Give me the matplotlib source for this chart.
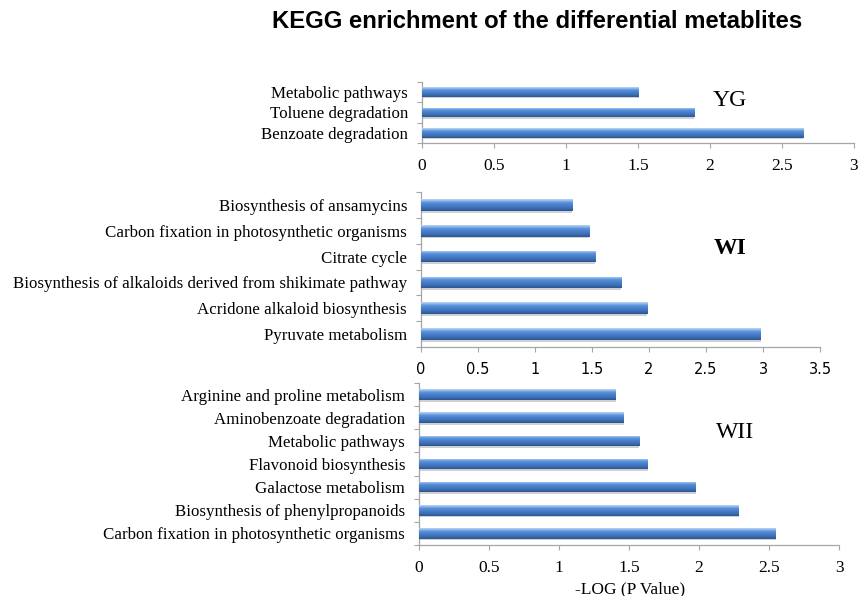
import numpy as np
import matplotlib
matplotlib.use("Agg")
import matplotlib.pyplot as plt
from matplotlib.colors import LinearSegmentedColormap

W, H = 859, 596

# Pathway names listed top to bottom, with -log10(P) values
yg_terms = ["Metabolic pathways", "Toluene degradation", "Benzoate degradation"]
yg_vals = [1.505, 1.89, 2.648]

wi_terms = ["Biosynthesis of ansamycins",
            "Carbon fixation in photosynthetic organisms",
            "Citrate cycle",
            "Biosynthesis of alkaloids derived from shikimate pathway",
            "Acridone alkaloid biosynthesis",
            "Pyruvate metabolism"]
wi_vals = [1.327, 1.474, 1.53, 1.757, 1.985, 2.98]

wii_terms = ["Arginine and proline metabolism",
             "Aminobenzoate degradation",
             "Metabolic pathways",
             "Flavonoid biosynthesis",
             "Galactose metabolism",
             "Biosynthesis of phenylpropanoids",
             "Carbon fixation in photosynthetic organisms"]
wii_vals = [1.407, 1.464, 1.574, 1.633, 1.976, 2.283, 2.548]

yg_ticks = [0, 0.5, 1, 1.5, 2, 2.5, 3]
wi_ticks = [0, 0.5, 1, 1.5, 2, 2.5, 3, 3.5]
wii_ticks = [0, 0.5, 1, 1.5, 2, 2.5, 3]

SERIF = "Liberation Serif"
SANS = "Liberation Sans"
SPINE = "#a6a6a6"

# bottom -> top shading of each bar
bar_cmap = LinearSegmentedColormap.from_list(
    "bevel",
    [(0.0, "#2b5592"), (0.2, "#3a6bb0"), (0.5, "#4a80cb"),
     (0.72, "#5a93dc"), (0.86, "#8fb8ec"), (1.0, "#bcd5f4")])
grad = np.linspace(0, 1, 64).reshape(-1, 1)


def px_rect(x0, y0, x1, y1):
    return [x0 / W, 1 - y1 / H, (x1 - x0) / W, (y1 - y0) / H]


def panel(rect, terms, vals, ticks, xmax, tick_font, tick_size, bar_h):
    ax = fig.add_axes(rect)
    n = len(terms)
    pos = np.arange(n)[::-1]
    # soft shadow under each bar
    ax.barh(pos - 0.07, vals, height=bar_h, color="#d0d0d0", zorder=1)
    bars = ax.barh(pos, vals, height=bar_h, color="#4a80cb", zorder=2)
    for b in bars:
        x0, y0 = b.get_x(), b.get_y()
        im = ax.imshow(grad, cmap=bar_cmap, origin="lower", aspect="auto",
                       extent=(x0, x0 + b.get_width(), y0, y0 + b.get_height()),
                       zorder=3, interpolation="bilinear")
        im.set_clip_path(b)
    ax.set_xlim(0, xmax)
    ax.set_ylim(-0.5, n - 0.5)
    ax.set_yticks(pos)
    ax.set_yticklabels(terms, fontfamily=SERIF, fontsize=12.2)
    ax.set_yticks(np.arange(n + 1) - 0.5, minor=True)
    ax.tick_params(axis="y", which="major", length=0, pad=10)
    ax.tick_params(axis="y", which="minor", length=3.5, color=SPINE, width=0.8)
    ax.set_xticks(ticks)
    ax.set_xticklabels([f"{t:g}" for t in ticks], fontfamily=tick_font,
                       fontsize=tick_size)
    ax.tick_params(axis="x", length=3.5, color=SPINE, width=0.8, pad=7)
    for s in ("top", "right"):
        ax.spines[s].set_visible(False)
    for s in ("left", "bottom"):
        ax.spines[s].set_color(SPINE)
        ax.spines[s].set_linewidth(0.9)
    return ax


fig = plt.figure(figsize=(W / 100, H / 100), dpi=100)

panel(px_rect(422, 82, 854, 143), yg_terms, yg_vals, yg_ticks, 3, SERIF, 12.5,
      0.47)
panel(px_rect(421, 192, 820, 347), wi_terms, wi_vals, wi_ticks, 3.5,
      "DejaVu Sans", 10.5, 0.45)
panel(px_rect(419, 383, 839, 545), wii_terms, wii_vals, wii_ticks, 3,
      SERIF, 12.5, 0.46)

fig.text(537 / W, 1 - 22 / H, "KEGG enrichment of the differential metablites",
         ha="center", va="center", fontfamily=SANS, fontweight="bold",
         fontsize=17.2)
fig.text(730 / W, 1 - 101 / H, "YG", ha="center", va="center",
         fontfamily=SERIF, fontsize=17)
fig.text(730 / W, 1 - 249 / H, "WI", ha="center", va="center",
         fontfamily=SERIF, fontsize=17, fontweight="bold")
fig.text(735 / W, 1 - 433 / H, "WII", ha="center", va="center",
         fontfamily=SERIF, fontsize=17)
fig.text(630 / W, 1 - 589 / H, "-LOG (P Value)", ha="center", va="center",
         fontfamily=SERIF, fontsize=12.5)

fig.savefig("out.png", dpi=100)
